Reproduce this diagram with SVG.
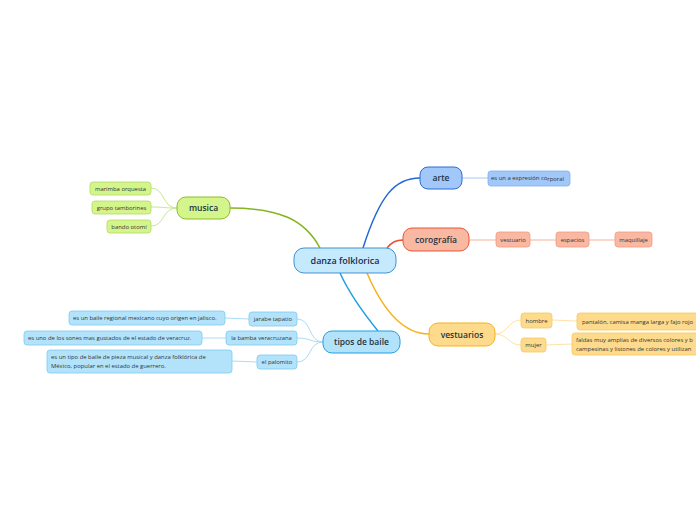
<svg xmlns="http://www.w3.org/2000/svg" width="696" height="520" viewBox="0 0 696 520">
<style>
text{font-family:"Open Sans","Noto Sans",sans-serif;fill:#2a2a2a}
.t1{font-size:8.5px;font-weight:600;fill:#1f3340;text-anchor:middle}
.t0{font-size:9px;font-weight:600;fill:#1b2b4d;text-anchor:middle}
.s{font-size:5.9px;fill:#333}
.sm{font-size:5.9px;fill:#333;text-anchor:middle}
.c{fill:none}
</style>
<rect width="696" height="520" fill="#ffffff"/>
<g id="connectors" class="c">
<path d="M230,208 C280,208 305,220 320,248" stroke="#86b51e" stroke-width="1.5"/>
<path d="M363,248 C380,195 395,178 420,178" stroke="#2166d4" stroke-width="1.5"/>
<path d="M387,248 C392,242 396,240 403,240" stroke="#e8502f" stroke-width="1.5"/>
<path d="M340,273 C350,295 365,315 378,331" stroke="#1ea0e3" stroke-width="1.5"/>
<path d="M367,273 C385,315 405,334 429,334" stroke="#f6b21a" stroke-width="1.5"/>
<g stroke="#c8e68f" stroke-width="1">
<path d="M177,208 C162,208 165,188 151,188"/>
<path d="M177,208 C162,208 165,207 151,207"/>
<path d="M177,208 C162,208 165,226 151,226"/>
</g>
<path d="M462,178 L488,178" stroke="#a8c9f6" stroke-width="1"/>
<g stroke="#f9c3b0" stroke-width="1.3">
<path d="M469,240 L496,240"/>
<path d="M530,240 L556,240"/>
<path d="M589,240 L615,240"/>
</g>
<g stroke="#a9dcf5" stroke-width="1">
<path d="M323,342 C308,342 312,319 297,319"/>
<path d="M323,342 C308,342 312,338 297,338"/>
<path d="M323,342 C308,342 312,362 297,362"/>
<path d="M249,319 L225,318"/>
<path d="M226,338 L202,338"/>
<path d="M257,362 L232,361"/>
</g>
<g stroke="#fde3a6" stroke-width="1">
<path d="M495,334 C508,334 508,320 521,320"/>
<path d="M495,334 C508,334 508,345 521,345"/>
<path d="M552,320 L577,321"/>
<path d="M546,345 L572,344"/>
</g>
</g>
<g id="center">
<rect x="294" y="248" width="102" height="25" rx="10" fill="#c5eafd" stroke="#4191d3" stroke-width="1"/>
<text class="t0" x="345" y="264">danza folklorica</text>
</g>
<g id="arte">
<rect x="420" y="167" width="42" height="22" rx="8" fill="#a2c7f9" stroke="#2a6dd6" stroke-width="1"/>
<text class="t1" x="441" y="181">arte</text>
</g>
<g id="arte-1">
<rect x="488" y="171" width="82" height="15" rx="3" fill="#a2c7f9" stroke="#7fb0f0" stroke-width="0.8"/>
<text class="s" x="491" y="179.5">es un a expresión co<tspan dy="1.5">rporal</tspan></text>
</g>
<g id="corografia">
<rect x="403" y="228" width="66" height="23" rx="9" fill="#f9b8a2" stroke="#ea5535" stroke-width="1"/>
<text class="t1" x="436" y="242.5">corografía</text>
</g>
<g id="vestuario">
<rect x="496" y="232" width="34" height="15" rx="3" fill="#f9b8a2" stroke="#f39a80" stroke-width="0.8"/>
<text class="sm" x="513" y="241.8">vestuario</text>
</g>
<g id="espacios">
<rect x="556" y="232" width="33" height="15" rx="3" fill="#f9b8a2" stroke="#f39a80" stroke-width="0.8"/>
<text class="sm" x="572.5" y="241.8">espacios</text>
</g>
<g id="maquillaje">
<rect x="615" y="232" width="37" height="15" rx="3" fill="#f9b8a2" stroke="#f39a80" stroke-width="0.8"/>
<text class="sm" x="633.5" y="241.8">maquillaje</text>
</g>
<g id="musica">
<rect x="177" y="197" width="53" height="22" rx="9" fill="#d4f58c" stroke="#8cbd25" stroke-width="1"/>
<text class="t1" x="203.5" y="211">musica</text>
</g>
<g id="marimba">
<rect x="90" y="182" width="61" height="13" rx="3" fill="#d4f58c" stroke="#b2dc62" stroke-width="0.8"/>
<text class="sm" x="120.5" y="190.8">marimba orquesta</text>
</g>
<g id="grupo">
<rect x="92" y="201" width="59" height="13" rx="3" fill="#d4f58c" stroke="#b2dc62" stroke-width="0.8"/>
<text class="sm" x="121.5" y="209.8">grupo tamborines</text>
</g>
<g id="bando">
<rect x="107" y="220" width="44" height="13" rx="3" fill="#d4f58c" stroke="#b2dc62" stroke-width="0.8"/>
<text class="sm" x="129" y="228.8">bando otomí</text>
</g>
<g id="tipos">
<rect x="323" y="331" width="77" height="22" rx="9" fill="#b3e3fa" stroke="#1ea0e3" stroke-width="1"/>
<text class="t1" x="361.5" y="345">tipos de baile</text>
</g>
<g id="jarabe">
<rect x="249" y="312" width="48" height="14" rx="3" fill="#b3e3fa" stroke="#7fcaf0" stroke-width="0.8"/>
<text class="sm" x="273" y="321.3">jarabe tapatio</text>
</g>
<g id="bamba">
<rect x="226" y="331" width="71" height="14" rx="3" fill="#b3e3fa" stroke="#7fcaf0" stroke-width="0.8"/>
<text class="sm" x="261.5" y="340.3">la bamba veracruzana</text>
</g>
<g id="palomito">
<rect x="257" y="355" width="40" height="14" rx="3" fill="#b3e3fa" stroke="#7fcaf0" stroke-width="0.8"/>
<text class="sm" x="277" y="364.3">el palomito</text>
</g>
<g id="jarabe-1">
<rect x="69" y="311" width="156" height="14" rx="3" fill="#b3e3fa" stroke="#7fcaf0" stroke-width="0.8"/>
<text class="s" x="73" y="320.3">es un baile regional mexicano cuyo origen en jalisco.</text>
</g>
<g id="bamba-1">
<rect x="24" y="331" width="178" height="14" rx="3" fill="#b3e3fa" stroke="#7fcaf0" stroke-width="0.8"/>
<text class="s" x="28" y="340.3">es uno de los sones mas gustados de el estado de veracruz.</text>
</g>
<g id="palomito-1">
<rect x="47" y="350" width="185" height="23" rx="3" fill="#b3e3fa" stroke="#7fcaf0" stroke-width="0.8"/>
<text class="s" x="51" y="359">es un tipo de baile  de pieza musical  y  danza folklórica  de</text>
<text class="s" x="51" y="368">México, popular en el estado de guerrero.</text>
</g>
<g id="vestuarios">
<rect x="429" y="323" width="66" height="23" rx="9" fill="#fedb8c" stroke="#f6b21a" stroke-width="1"/>
<text class="t1" x="462" y="337.5">vestuarios</text>
</g>
<g id="hombre">
<rect x="521" y="313" width="31" height="15" rx="3" fill="#fedb8c" stroke="#f7c95c" stroke-width="0.8"/>
<text class="sm" x="536.5" y="322.8">hombre</text>
</g>
<g id="mujer">
<rect x="521" y="338" width="25" height="14" rx="3" fill="#fedb8c" stroke="#f7c95c" stroke-width="0.8"/>
<text class="sm" x="533.5" y="347.3">mujer</text>
</g>
<g id="hombre-1">
<rect x="577" y="313" width="130" height="17" rx="3" fill="#fedb8c" stroke="#f7c95c" stroke-width="0.8"/>
<text class="s" x="582" y="323.8">pantalón, camisa manga larga y fajo rojo</text>
</g>
<g id="mujer-1">
<rect x="572" y="333" width="140" height="22" rx="3" fill="#fedb8c" stroke="#f7c95c" stroke-width="0.8"/>
<text class="s" x="576" y="342">faldas muy amplias  de diversos colores y b</text>
<text class="s" x="576" y="351">campesinas  y listones de colores y utilizan</text>
</g>
</svg>
